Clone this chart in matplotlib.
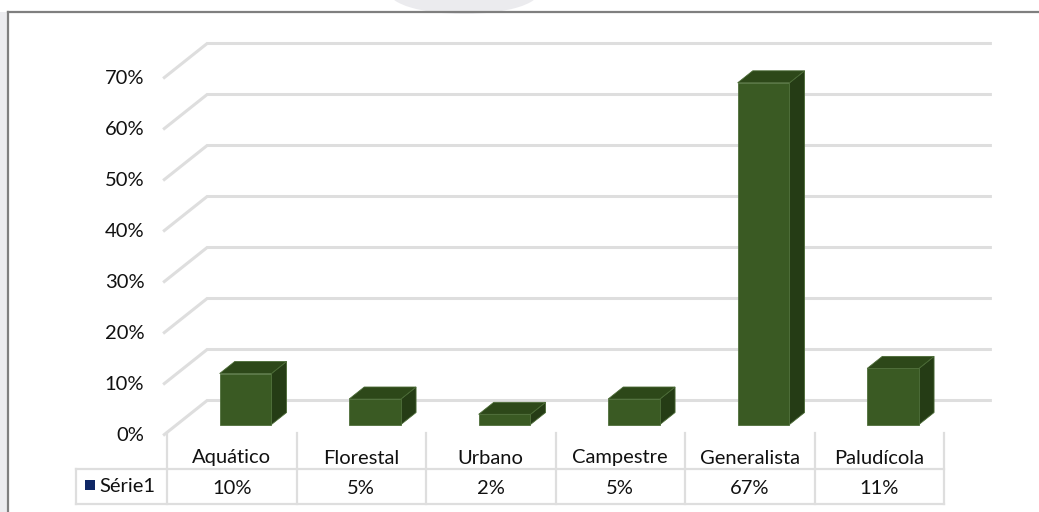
import matplotlib
matplotlib.use("Agg")
import matplotlib.pyplot as plt
from matplotlib.patches import Polygon, Rectangle, Ellipse

# ---- data ----
categories = ["Aquático", "Florestal", "Urbano", "Campestre", "Generalista", "Paludícola"]
values = [10, 5, 2, 5, 67, 11]
value_labels = ["10%", "5%", "2%", "5%", "67%", "11%"]
y_ticks = [0, 10, 20, 30, 40, 50, 60, 70]
series_name = "Série1"

# ---- style ----
FONT = "Lato"
FS = 14.5
TXT = "#111111"
GRID = "#dedede"
FRONT = "#3a5a23"
TOP = "#2d4819"
SIDE = "#253c15"
LEGEND_KEY = "#0f2765"

W, H = 1039, 512
fig = plt.figure(figsize=(W / 100, H / 100), dpi=100)
fig.patch.set_facecolor("white")

# pixel-space axes for frame and data table layout
pax = fig.add_axes([0, 0, 1, 1])
pax.set_xlim(0, W)
pax.set_ylim(H, 0)
pax.axis("off")

# chart axes: x in category units (column edges at 0..n), y in percent
col_left_px, col_w_px = 167, 129.5
zero_px, px_per_pct = 435.5, 5.1
ax = fig.add_axes([0, 0, 1, 1], facecolor="none")
ax.set_xlim(-col_left_px / col_w_px, (W - col_left_px) / col_w_px)
ax.set_ylim(-(H - zero_px) / px_per_pct, zero_px / px_per_pct)
ax.axis("off")

n = len(categories)
# oblique depth offset of the floor (category units, percent units)
dx, dy = 44 / col_w_px, 35 / px_per_pct
x0, x1 = -0.03, n + 0.03

# background decoration and chart frame
pax.add_patch(Rectangle((0, 12), 7, H - 12, color="#ececef", lw=0, zorder=0))
pax.add_patch(Ellipse((464, -8), 150, 44, color="#ebebee", lw=0, zorder=0))
pax.plot([8, 8], [H, 12], color="#7f7f7f", lw=1.6, zorder=1)
pax.plot([8, W], [12, 12], color="#7f7f7f", lw=1.6, zorder=1)

# side wall + back wall gridlines
for v in y_ticks:
    ax.plot([x0, x0 + dx, x1 + dx], [v, v + dy, v + dy], color=GRID, lw=2.2,
            solid_joinstyle="miter", solid_capstyle="butt", zorder=1)
    ax.text(x0 - 0.145, v, f"{v}%", ha="right", va="center", fontsize=FS,
            family=FONT, color=TXT)

# 3D-style bars
t0, t1 = 0.314, 0.657
half = 0.2
for i, v in enumerate(values):
    cx = i + 0.5
    xl, xr = cx - half, cx + half
    fx, fy = dx * t0, dy * t0
    bx, by = dx * t1, dy * t1
    side = [(xr + fx, fy), (xr + bx, by), (xr + bx, v + by), (xr + fx, v + fy)]
    top = [(xl + fx, v + fy), (xr + fx, v + fy), (xr + bx, v + by), (xl + bx, v + by)]
    front = [(xl + fx, fy), (xr + fx, fy), (xr + fx, v + fy), (xl + fx, v + fy)]
    ax.add_patch(Polygon(side, closed=True, fc=SIDE, ec="#4a6a35", lw=0.6, zorder=3))
    ax.add_patch(Polygon(top, closed=True, fc=TOP, ec="#4a6a35", lw=0.6, zorder=3))
    ax.add_patch(Polygon(front, closed=True, fc=FRONT, ec="#4f6f3a", lw=0.6, zorder=4))

# data table
edges = [col_left_px + i * col_w_px for i in range(n + 1)]
row_top, row_mid, row_bot = 433, 469, 504
tbl_left = 76
for xe in edges:
    pax.plot([xe, xe], [row_top, row_bot], color=GRID, lw=1.6, zorder=2)
pax.plot([tbl_left, tbl_left], [row_mid, row_bot], color=GRID, lw=1.6, zorder=2)
for yy in (row_mid, row_bot):
    pax.plot([tbl_left, edges[-1]], [yy, yy], color=GRID, lw=1.6, zorder=2)

for i, (cat, lab) in enumerate(zip(categories, value_labels)):
    cx = (edges[i] + edges[i + 1]) / 2
    pax.text(cx, 458, cat, ha="center", va="center", fontsize=FS, family=FONT, color=TXT)
    pax.text(cx, 489, lab, ha="center", va="center", fontsize=FS, family=FONT, color=TXT)

pax.add_patch(Rectangle((85, 480), 10, 10, color=LEGEND_KEY, lw=0, zorder=3))
pax.text(99, 487, series_name, ha="left", va="center", fontsize=FS, family=FONT, color=TXT)

fig.savefig("out.png", dpi=100, facecolor="white")
